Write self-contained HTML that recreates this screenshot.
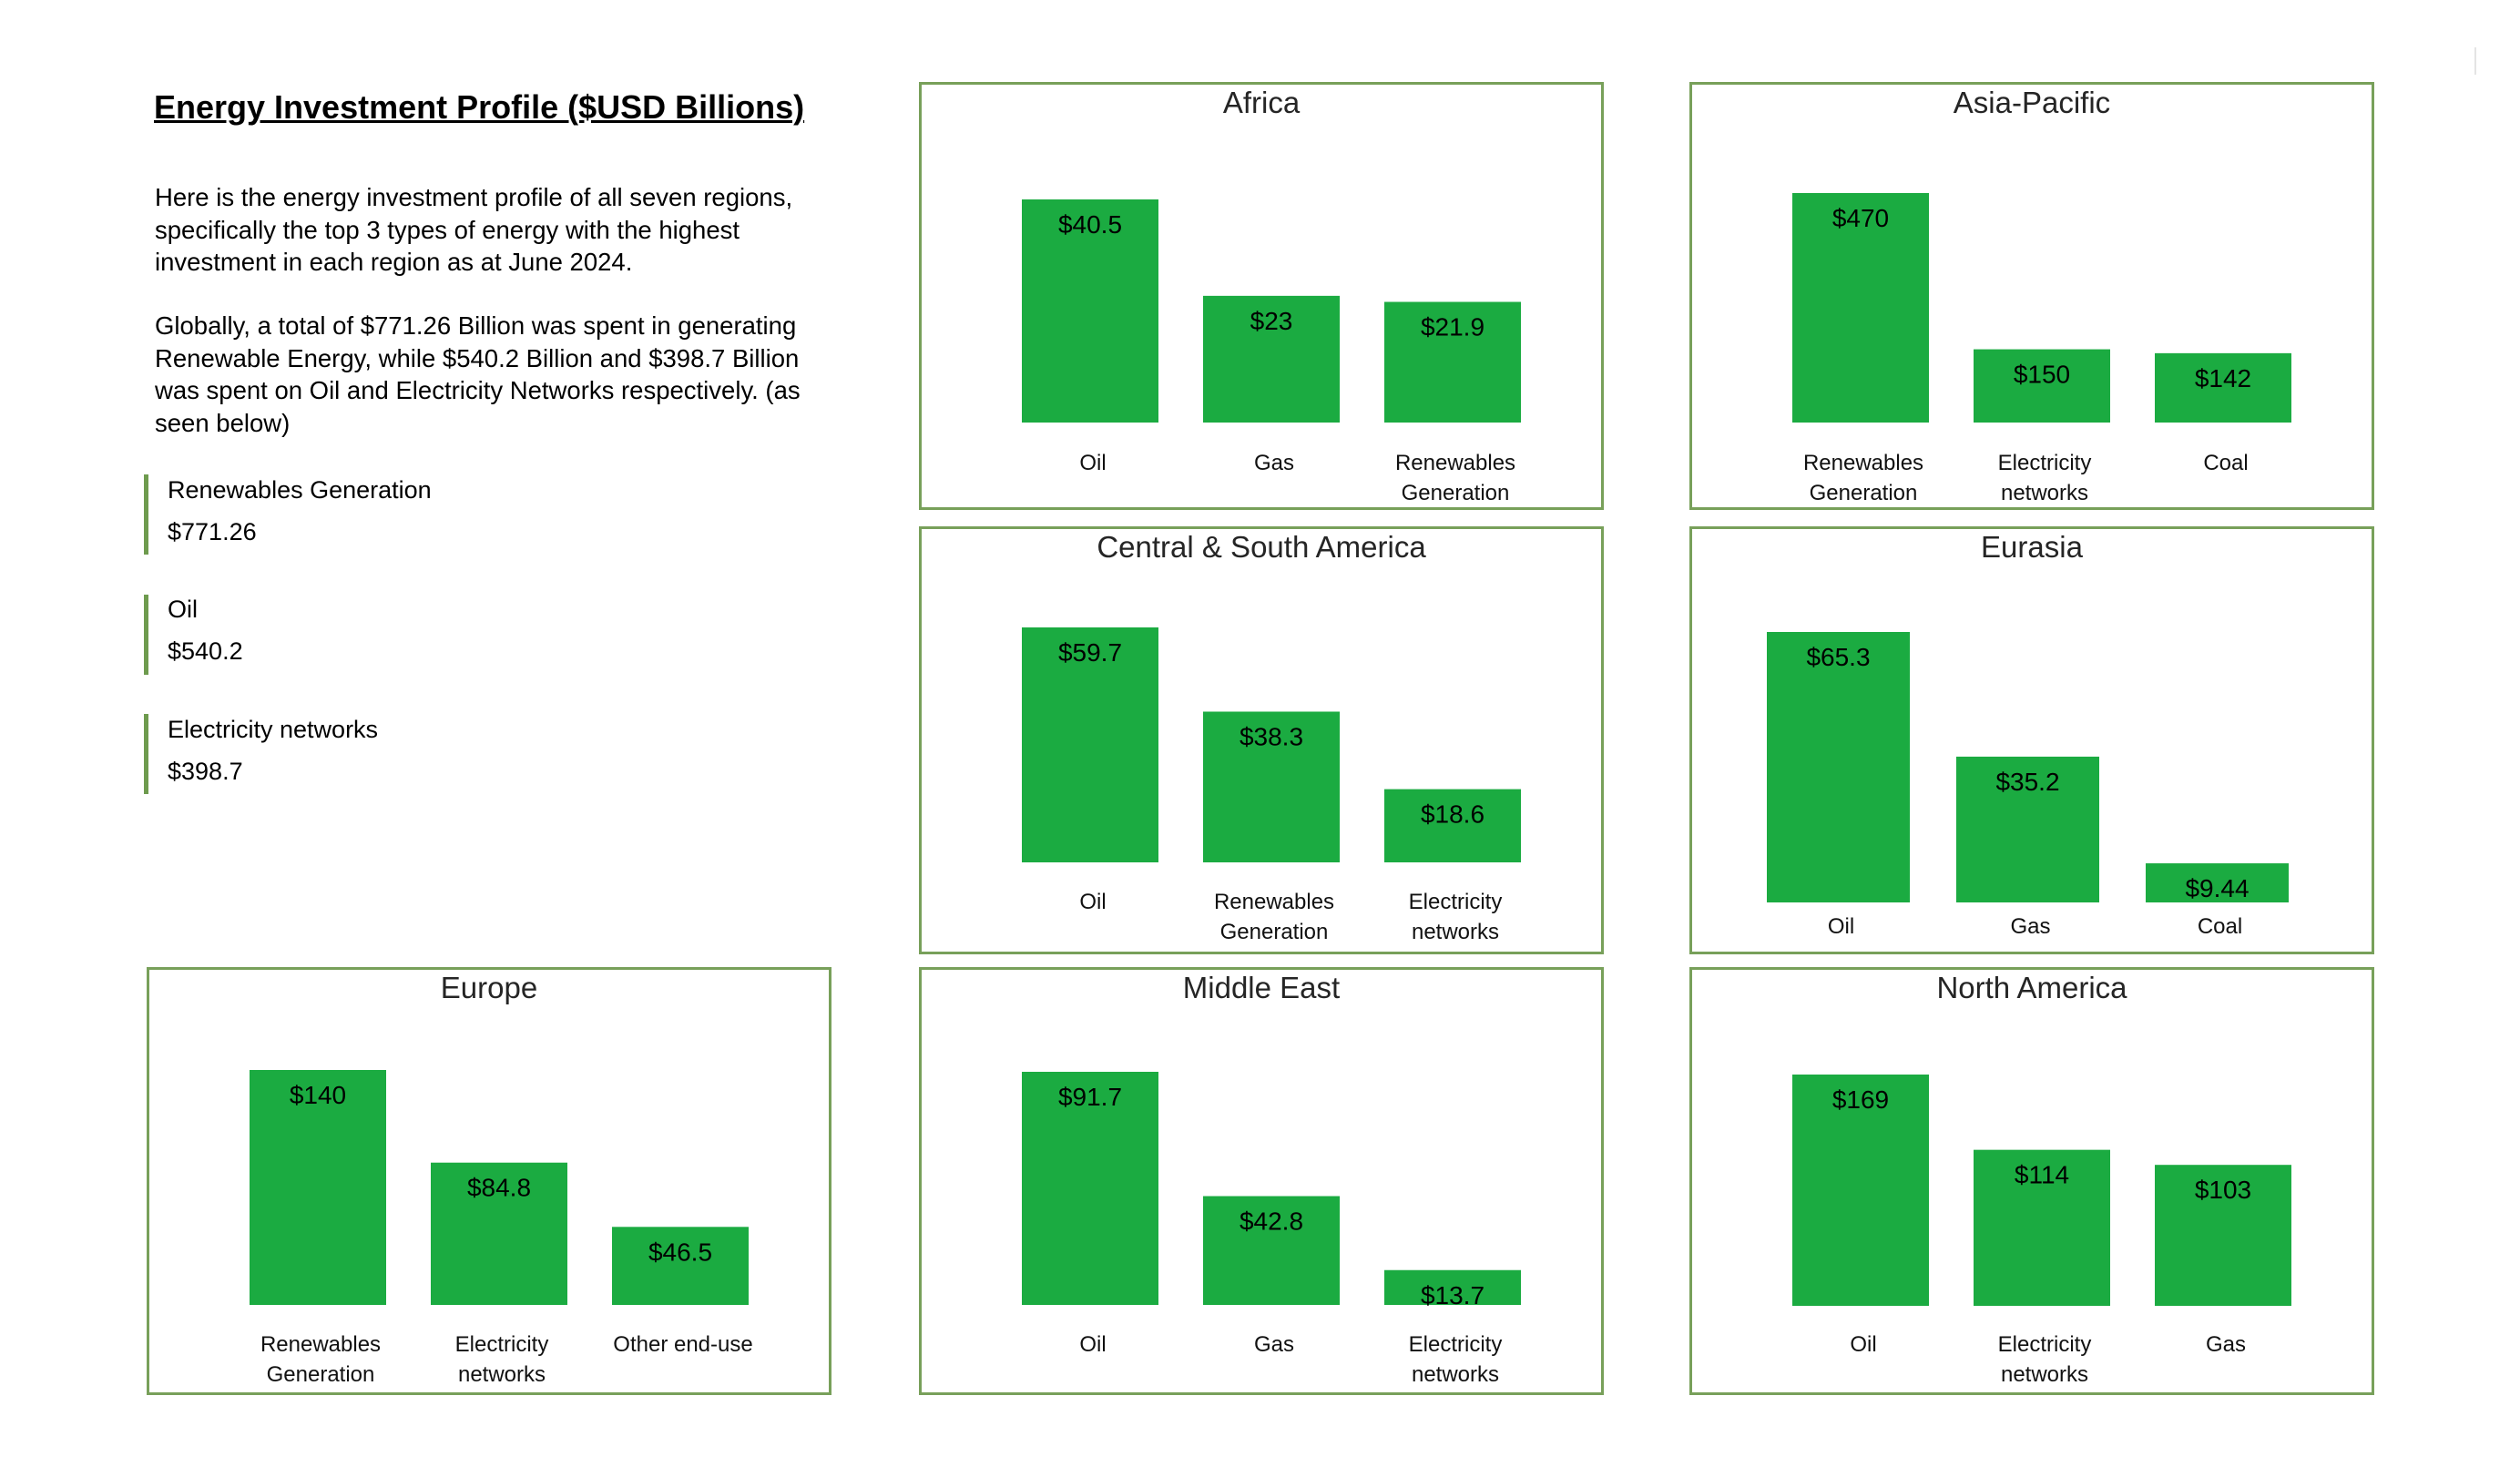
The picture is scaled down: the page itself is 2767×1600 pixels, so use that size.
<!DOCTYPE html>
<html><head><meta charset="utf-8"><title>Energy Investment Profile</title>
<style>
html,body{margin:0;padding:0;background:#fff;}
body{width:2767px;height:1600px;position:relative;overflow:hidden;font-family:"Liberation Sans",sans-serif;color:#000;}
#title{position:absolute;left:169px;top:97px;font-size:36px;font-weight:bold;text-decoration:underline;text-decoration-thickness:3px;white-space:nowrap;}
.para{position:absolute;left:170px;font-size:27.5px;line-height:35.5px;white-space:nowrap;}
.stat{position:absolute;left:158px;width:5px;height:88px;background:#6e9b4e;}
.stxt{position:absolute;left:184px;font-size:27px;white-space:nowrap;}
svg{position:absolute;left:0;top:0;}
</style></head>
<body>
<div id="title">Energy Investment Profile ($USD Billions)</div>
<div class="para" style="top:199px">Here is the energy investment profile of all seven regions,<br>specifically the top 3 types of energy with the highest<br>investment in each region as at June 2024.</div>
<div class="para" style="top:340px">Globally, a total of $771.26 Billion was spent in generating<br>Renewable Energy, while $540.2 Billion and $398.7 Billion<br>was spent on Oil and Electricity Networks respectively. (as<br>seen below)</div>
<div class="stat" style="top:521px"></div>
<div class="stxt" style="top:523px">Renewables Generation</div>
<div class="stxt" style="top:569px">$771.26</div>
<div class="stat" style="top:653px"></div>
<div class="stxt" style="top:654px">Oil</div>
<div class="stxt" style="top:700px">$540.2</div>
<div class="stat" style="top:784px"></div>
<div class="stxt" style="top:786px">Electricity networks</div>
<div class="stxt" style="top:832px">$398.7</div>
<div style="position:absolute;left:2717px;top:52px;width:2px;height:30px;background:#e4e4e4"></div>

<svg id="charts" width="2767" height="1600" xmlns="http://www.w3.org/2000/svg"></svg>

<script>
// Data arrays
const regions = ["Africa","Asia-Pacific","Central & South America","Eurasia","Europe","Middle East","North America"];
const categories = [
  [["Oil"],["Gas"],["Renewables","Generation"]],
  [["Renewables","Generation"],["Electricity","networks"],["Coal"]],
  [["Oil"],["Renewables","Generation"],["Electricity","networks"]],
  [["Oil"],["Gas"],["Coal"]],
  [["Renewables","Generation"],["Electricity","networks"],["Other end-use"]],
  [["Oil"],["Gas"],["Electricity","networks"]],
  [["Oil"],["Electricity","networks"],["Gas"]]
];
const values = [
  [40.5, 23, 21.9],
  [470, 150, 142],
  [59.7, 38.3, 18.6],
  [65.3, 35.2, 9.44],
  [140, 84.8, 46.5],
  [91.7, 42.8, 13.7],
  [169, 114, 103]
];
const valueLabels = [
  ["$40.5","$23","$21.9"],
  ["$470","$150","$142"],
  ["$59.7","$38.3","$18.6"],
  ["$65.3","$35.2","$9.44"],
  ["$140","$84.8","$46.5"],
  ["$91.7","$42.8","$13.7"],
  ["$169","$114","$103"]
];

// Layout (not data)
const boxX = [1009,1855,1009,1855,161,1009,1855];
const boxY = [90,90,578,578,1062,1062,1062];
const plotTop = [129,122,111,116,113,115,118];
const plotBottom = [374,374,369,413,371,371,372];
const barStart = [113,113,113,85,113,113,113];
const barPitch = [199,199,199,208,199,199,199];
const barWidth = [150,150,150,157,150,150,150];
const labelY = [417,417,411,438,413,413,413];
const BOXW = 752, BOXH = 470;

const NS = "http://www.w3.org/2000/svg";
const svg = document.getElementById("charts");
function mk(tag, attrs, parent){
  const e = document.createElementNS(NS, tag);
  for (const k in attrs) e.setAttribute(k, attrs[k]);
  parent.appendChild(e);
  return e;
}
function slug(s){ return s.toLowerCase().replace(/[^a-z0-9]+/g,'-').replace(/^-|-$/g,''); }

regions.forEach((name, r) => {
  const g = mk("g", {transform:`translate(${boxX[r]},${boxY[r]})`}, svg);
  
  
  const box = mk("rect", {x:1.5,y:1.5,width:BOXW-3,height:BOXH-3,fill:"#fff",stroke:"#78a05a","stroke-width":3}, g);
  
  
  const t = mk("text", {x:BOXW/2,y:34,"text-anchor":"middle","font-family":"Liberation Sans, sans-serif","font-size":33,fill:"#252525"}, g);
  t.textContent = name;
  
  
  const maxV = Math.max(...values[r]);
  const yScale = v => plotBottom[r] - (v / maxV) * (plotBottom[r] - plotTop[r]);
  const xScale = i => barStart[r] + i * barPitch[r];
  values[r].forEach((v, i) => {
    const x = xScale(i), y = yScale(v), w = barWidth[r];
    const b = mk("rect", {x:x,y:y,width:w,height:plotBottom[r]-y,fill:"#1bab41"}, g);
    
    
    const vl = mk("text", {x:x+w/2,y:y+37,"text-anchor":"middle","font-family":"Liberation Sans, sans-serif","font-size":28,fill:"#000"}, g);
    vl.textContent = valueLabels[r][i];
    
    
    categories[r][i].forEach((line, li) => {
      const cl = mk("text", {x:x+w/2+3,y:labelY[r]+9+li*33,"text-anchor":"middle","font-family":"Liberation Sans, sans-serif","font-size":24,fill:"#111"}, g);
      cl.textContent = line;
      
      
    });
  });
});
</script>
</body></html>
